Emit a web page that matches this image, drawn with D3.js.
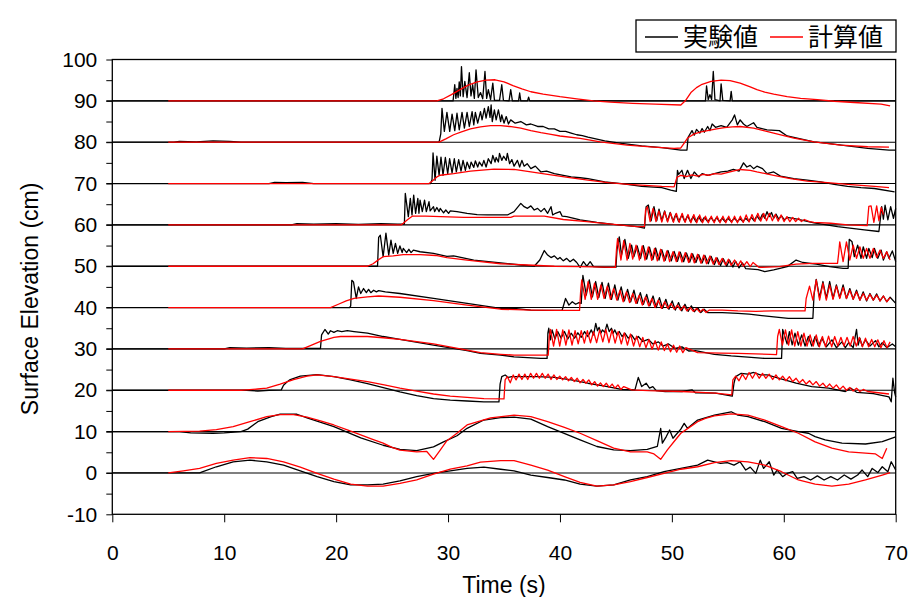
<!DOCTYPE html>
<html>
<head>
<meta charset="utf-8">
<script src="https://cdn.jsdelivr.net/npm/d3@7"></script>
<style>
  body { margin: 0; background: #fff; }
  svg { display: block; }
</style>
</head>
<body>
<svg id="chart" width="912" height="597"></svg>
<script>
// Gauge baselines (each record is shifted up by its offset, in cm)
const gaugeOffsets = [0, 10, 20, 30, 40, 50, 60, 70, 80, 90];
const xTicks = [0, 10, 20, 30, 40, 50, 60, 70];
const yTicks = [-10, 0, 10, 20, 30, 40, 50, 60, 70, 80, 90, 100];
const yMinorTicks = [-5, 5, 15, 25, 35, 45, 55, 65, 75, 85, 95];
const legendNames = ["実験値", "計算値"];
const xTitle = "Time (s)";
const yTitle = "Surface Elevation (cm)";

// Measured surface elevation [time s, elevation cm] per gauge
const exp0 = [[0,0],[7.8,0],[8.1,0.3],[9.3,1.5],[10.8,2.7],[12.3,3.1],[13.8,2.7],[15.3,1.9],[16.8,0.5],[18.3,-0.9],[19.8,-2.1],[21.3,-2.9],[22.8,-2.9],[24.2,-2.7],[25.7,-1.9],[27.2,-0.9],[28.7,-0.1],[30.2,0.5],[31.7,1.1],[33.2,1.4],[34.7,0.9],[35.9,0.5],[37.4,-0.5],[38.9,-1.1],[40.4,-1.7],[41.8,-2.7],[43.3,-3.2],[44.8,-2.9],[46.3,-1.7],[47.8,-0.9],[49.3,0.3],[50.8,1.1],[52.3,1.9],[53.2,3.1],[53.8,2.7],[54.35,2.3],[54.95,2.5],[55.55,1.9],[56.1,2.7],[56.6,0.7],[57.0,1.4],[57.5,-0.1],[57.9,3.1],[58.2,1.1],[58.7,2.7],[59.1,-0.5],[59.4,0.7],[59.9,-0.9],[60.3,-0.1],[60.8,0.3],[61.2,-1.3],[61.8,-0.9],[62.4,-1.7],[63.0,-0.7],[63.6,-1.7],[64.2,-0.9],[64.8,-1.7],[65.4,-0.5],[66.0,-1.5],[66.6,-0.5],[67.0,0.7],[67.5,-0.9],[67.9,1.1],[68.4,0.1],[68.8,1.5],[69.3,0.3],[69.6,2.7],[70.0,0.7]];
const exp1 = [[0,0],[6,0],[7,-0.3],[9,-0.4],[10,-0.3],[11.5,0],[12.1,0.6],[13.0,2.4],[14.2,3.6],[15.0,4.2],[16.5,4.2],[17.4,3.3],[19.8,1.2],[22.2,-1.5],[24.2,-3.3],[25.7,-4.3],[27.2,-4.6],[28.7,-3.7],[29.6,-2.5],[30.8,-1.0],[31.7,0.8],[33.2,2.8],[34.7,3.4],[35.9,3.5],[37.4,3.0],[38.9,1.2],[41.8,-2.0],[43.3,-3.6],[44.8,-4.4],[46.3,-4.6],[47.8,-4.3],[48.7,-3.6],[49.0,0.8],[49.15,-2.8],[49.5,-1.2],[49.8,0.4],[50.1,-1.6],[50.8,0.6],[51.1,2.0],[51.4,0.8],[52.3,2.8],[53.8,4.0],[55.3,4.8],[55.9,4.0],[56.8,3.6],[58.3,2.4],[59.8,0.8],[61.3,0.0],[62.2,-0.4],[62.8,-1.2],[63.7,-2.0],[65.2,-2.8],[67.3,-3.0],[68.8,-2.4],[70,-1.3]];
const exp2 = [[0,0],[12,0],[13,-0.2],[14,0],[15.1,0.1],[15.3,1.2],[15.6,2.0],[15.9,2.6],[16.8,3.4],[18.3,3.8],[19.8,3.3],[21.3,2.5],[22.8,1.6],[24.3,0.6],[25.7,-0.4],[27.2,-1.3],[28.7,-2.0],[30.2,-2.4],[31.7,-2.6],[33.2,-2.8],[34.55,-2.8],[34.65,1.5],[34.8,3.3],[35.1,3.7],[35.4,3.1],[35.7,3.3],[36.5,3.3],[38.0,3.3],[39.5,3.1],[41.0,2.5],[42.5,1.7],[44.0,1.0],[45.5,0.2],[46.7,0.1],[47.0,3.1],[47.3,0.9],[47.7,1.7],[48.0,0.5],[48.3,0.9],[48.6,-0.1],[49.4,-0.3],[50.9,-0.3],[51.8,0.1],[52.1,-0.6],[53.9,-0.7],[55.4,-1.4],[55.55,1.7],[55.7,3.3],[56.2,4.1],[56.8,3.9],[57.3,4.3],[57.9,3.7],[58.5,3.7],[59.6,2.9],[61.1,1.7],[62.5,0.9],[64.0,0.5],[65.5,-0.3],[66.0,0.5],[66.5,-0.5],[68.0,-0.8],[69.4,-1.6],[69.6,-2.8],[69.75,2.9],[69.9,-0.5],[70,-1.6]];
const exp3 = [[0,0],[10,0],[10.5,0.3],[12,0.2],[14,0.3],[15.5,0.1],[18.6,0.1],[18.7,3.4],[19.0,4.7],[19.3,3.6],[19.5,4.4],[19.8,4.0],[20.1,4.4],[20.5,4.2],[21.0,4.4],[21.6,4.2],[22.8,3.8],[24.2,3.0],[25.7,2.3],[28.7,0.9],[31.7,-0.4],[32.9,-1.1],[34.7,-1.5],[35.9,-1.9],[38.3,-2.3],[38.85,-2.3],[38.92,3.8],[39.0,5.0],[39.15,2.2],[39.3,4.6],[39.55,2.4],[39.8,4.2],[40.1,2.6],[40.4,4.2],[40.7,2.4],[41.0,3.8],[41.3,2.6],[41.6,3.9],[41.9,2.8],[42.2,4.2],[42.5,3.0],[42.8,4.6],[43.0,3.4],[43.2,6.2],[43.35,4.4],[43.5,5.2],[43.65,3.8],[43.8,4.6],[44.0,4.0],[44.2,6.0],[44.4,4.2],[44.6,5.0],[44.75,3.8],[44.9,4.6],[45.1,3.4],[45.3,4.2],[45.55,3.0],[45.8,3.8],[46.1,2.6],[46.4,3.4],[46.7,2.2],[47.0,3.0],[47.4,1.8],[47.9,2.3],[48.3,1.2],[48.8,1.7],[49.2,0.7],[49.7,1.2],[50.3,0.1],[50.9,0.5],[51.5,-0.5],[52.1,-0.4],[53.8,-1.3],[55.3,-1.7],[56.8,-2.0],[58.3,-2.3],[59.8,-2.3],[59.9,4.7],[60.3,1.2],[60.5,4.2],[60.75,1.0],[61.0,3.8],[61.3,0.9],[61.6,3.4],[61.9,0.7],[62.2,3.0],[62.5,0.7],[62.8,3.0],[63.1,0.7],[63.4,2.6],[63.8,0.5],[64.3,2.2],[64.7,0.3],[65.2,1.7],[65.5,0.3],[65.8,1.5],[66.2,0.3],[66.5,4.7],[66.65,0.9],[66.8,2.6],[67.0,0.7],[67.3,2.2],[67.7,0.7],[68.2,2.0],[68.5,0.5],[68.8,1.5],[69.2,0.3],[69.7,1.2],[70,0.5]];
const exp4 = [[0,0],[21.2,0],[21.3,0.4],[21.4,6.6],[21.55,6.2],[21.8,2.2],[22.0,5.0],[22.2,3.4],[22.45,4.6],[22.7,3.6],[22.9,4.4],[23.1,3.6],[23.35,4.2],[23.6,3.8],[23.8,4.1],[24.4,3.8],[25.7,3.4],[28.7,2.2],[31.7,1.0],[34.7,-0.2],[35.9,-0.2],[37.4,-0.6],[38.9,-0.7],[40.2,-0.6],[40.5,2.2],[40.8,0.6],[41.1,1.4],[41.4,0.8],[41.7,1.2],[41.9,1.0],[42.05,7.8],[42.35,3.0],[42.62,6.7],[42.9,2.6],[43.19,6.3],[43.47,2.4],[43.76,6.1],[44.04,2.2],[44.33,5.9],[44.61,2.0],[44.9,5.5],[45.18,1.8],[45.47,5.0],[45.75,1.6],[46.04,4.4],[46.32,1.4],[46.61,4.2],[46.89,1.0],[47.18,3.6],[47.46,0.8],[47.75,3.2],[48.03,0.4],[48.32,2.8],[48.6,0.0],[48.89,2.4],[49.17,-0.2],[49.46,2.0],[49.74,-0.4],[50.03,1.6],[50.31,-0.6],[50.6,1.2],[50.88,-0.8],[51.17,0.8],[51.45,-0.9],[51.74,0.4],[52.02,-1.0],[52.31,0.0],[52.59,-1.2],[52.88,-0.4],[53.2,-1.2],[54.5,-1.2],[55.9,-1.4],[56.9,-1.6],[58.9,-2.2],[60.4,-2.6],[62.6,-2.6],[62.7,3.0],[62.9,6.8],[63.2,2.4],[63.5,6.3],[63.8,2.2],[64.1,6.3],[64.4,2.2],[64.7,5.5],[65.0,2.4],[65.3,5.5],[65.6,2.2],[65.9,4.6],[66.2,2.0],[66.5,4.2],[66.8,1.8],[67.1,3.8],[67.4,1.6],[67.7,3.4],[68.0,1.8],[68.3,3.3],[68.6,1.6],[68.9,2.8],[69.2,1.4],[69.5,2.5],[70,1.0]];
const exp5 = [[0,0],[23.7,0],[23.8,7.0],[23.95,7.5],[24.2,2.3],[24.45,8.0],[24.7,2.7],[24.9,6.3],[25.1,3.1],[25.3,5.5],[25.5,3.1],[25.7,4.9],[25.9,3.3],[26.0,4.3],[26.3,3.3],[26.5,4.1],[26.7,3.3],[26.9,3.9],[27.5,3.5],[28.7,3.1],[29.9,2.4],[30.5,2.5],[32.3,1.5],[34.7,0.8],[36.5,0.3],[37.7,0.0],[38.2,1.5],[38.6,3.8],[38.9,2.7],[39.2,2.1],[39.5,2.5],[39.8,1.7],[40.0,2.1],[40.3,1.3],[40.6,1.9],[40.9,1.1],[41.2,1.7],[41.5,0.9],[41.8,-0.3],[42.1,1.1],[42.4,0.0],[42.7,1.1],[43.0,-0.1],[44.0,-0.3],[45.0,-0.3],[45.1,4.0],[45.3,7.1],[45.5,2.7],[45.8,6.5],[46.1,1.9],[46.4,5.1],[46.6,2.3],[46.9,4.9],[47.2,1.9],[47.45,5.0],[47.75,1.7],[48.0,4.6],[48.3,1.6],[48.55,4.4],[48.85,1.5],[49.1,4.0],[49.4,1.4],[49.65,3.8],[49.95,1.3],[50.2,3.6],[50.5,1.2],[50.75,3.4],[51.05,1.1],[51.3,3.2],[51.6,1.0],[51.85,3.0],[52.15,0.9],[52.4,2.8],[52.7,0.8],[52.95,2.6],[53.25,0.6],[53.5,2.4],[53.8,0.4],[54.05,2.0],[54.35,0.2],[54.6,1.8],[54.9,0.0],[55.15,1.5],[55.45,-0.2],[55.7,1.2],[56.0,-0.4],[56.3,0.8],[56.6,-0.6],[57.7,-0.8],[58.3,-1.3],[59.1,-0.9],[60.3,-0.1],[61.1,1.5],[61.7,0.9],[62.9,0.5],[64.1,-0.1],[65.3,-0.5],[65.75,-0.5],[65.85,6.5],[66.1,5.9],[66.3,2.3],[66.6,5.1],[66.9,1.9],[67.1,4.7],[67.4,1.9],[67.6,4.3],[67.9,2.1],[68.1,4.3],[68.4,1.9],[68.7,3.9],[68.9,1.5],[69.2,3.5],[69.4,1.9],[69.7,3.7],[70,1.1]];
const exp6 = [[0,0],[16,0],[16.5,0.3],[18,0.2],[20,0.3],[22,0.1],[24,0.3],[25.5,0.2],[26.1,0.2],[26.18,7.6],[26.45,2.0],[26.63,6.4],[26.78,2.4],[26.93,7.2],[27.1,2.8],[27.3,6.4],[27.4,2.8],[27.5,6.0],[27.7,3.2],[27.9,6.0],[28.06,3.2],[28.3,5.6],[28.4,3.4],[28.7,4.4],[28.8,3.2],[29.0,4.2],[29.2,3.2],[29.3,4.0],[29.6,2.9],[29.8,3.6],[30.05,2.8],[30.2,3.4],[30.8,3.2],[31.7,2.8],[32.6,2.5],[33.5,2.4],[35.3,2.4],[35.9,3.2],[36.5,5.2],[36.8,4.4],[37.1,4.0],[37.4,4.6],[37.7,3.6],[38.0,4.0],[38.3,3.2],[38.6,4.0],[38.9,2.8],[39.2,4.4],[39.35,2.4],[39.6,2.8],[40.0,3.2],[40.2,2.1],[40.6,2.0],[41.8,1.2],[43.3,0.6],[44.8,0.1],[46.9,-0.4],[47.55,-0.8],[47.7,4.4],[47.9,4.8],[48.15,1.0],[48.4,4.4],[48.65,1.0],[48.85,3.8],[49.1,1.0],[49.35,3.4],[49.6,0.9],[49.85,3.0],[50.1,0.9],[50.35,2.6],[50.6,0.8],[50.9,2.4],[51.15,0.8],[51.4,2.2],[51.65,0.8],[51.9,2.0],[52.15,0.8],[52.4,2.0],[52.65,0.8],[52.9,1.8],[53.2,0.8],[53.5,1.8],[53.75,0.8],[54.0,1.8],[54.25,0.8],[54.5,1.6],[54.75,0.8],[55.0,1.6],[55.3,0.8],[55.6,1.6],[55.85,0.8],[56.1,1.5],[56.35,0.8],[56.6,1.6],[56.85,0.9],[57.1,1.8],[57.35,1.0],[57.6,2.2],[57.85,1.2],[58.1,2.6],[58.3,1.6],[58.5,3.2],[58.7,2.0],[58.9,3.0],[59.1,1.6],[59.3,2.6],[59.55,1.4],[59.8,2.2],[60.05,1.2],[60.3,1.8],[61.2,1.4],[62.7,0.5],[64.8,-0.4],[67.2,-1.2],[68.5,-1.6],[68.65,2.0],[68.75,4.4],[68.9,1.4],[69.05,4.8],[69.3,1.2],[69.55,4.4],[69.8,1.6],[70,4.0]];
const exp7 = [[0,0],[14,0],[14.5,0.3],[15.5,0.2],[17,0.3],[18,0],[28.45,0],[28.57,1.0],[28.66,7.4],[28.84,0.8],[29.0,6.6],[29.2,2.0],[29.37,6.4],[29.55,2.0],[29.76,6.3],[29.97,2.4],[30.14,6.0],[30.36,2.6],[30.56,6.0],[30.74,2.8],[30.95,5.8],[31.16,3.0],[31.34,5.6],[31.55,3.2],[31.7,5.2],[31.93,3.6],[32.06,5.2],[32.3,3.9],[32.44,5.5],[32.65,4.0],[32.8,5.2],[33.04,4.2],[33.2,5.6],[33.4,4.0],[33.6,6.0],[33.85,4.8],[34.0,6.8],[34.2,5.2],[34.3,6.3],[34.5,5.2],[34.6,7.3],[34.8,5.6],[34.97,6.6],[35.2,5.6],[35.3,7.3],[35.5,4.8],[35.7,5.8],[35.9,4.2],[36.2,5.6],[36.4,4.0],[36.6,5.6],[36.8,4.2],[37.07,4.8],[37.4,3.6],[37.8,4.2],[38.3,2.8],[38.8,3.0],[39.5,2.4],[40.3,2.0],[41.0,1.6],[41.8,1.4],[42.5,1.2],[44.0,0.4],[45.5,0.0],[47.3,-0.7],[49.1,-1.0],[49.9,-1.6],[50.4,-1.9],[50.5,3.2],[50.6,2.2],[50.9,3.2],[51.1,1.2],[51.4,3.2],[51.7,1.2],[52.0,2.8],[52.4,1.6],[52.7,2.4],[53.2,2.0],[53.8,2.4],[54.4,2.8],[55.0,3.0],[55.5,3.4],[56.0,3.0],[56.4,5.0],[56.7,4.0],[57.0,4.4],[57.3,3.6],[57.6,4.2],[58.1,3.6],[58.5,2.4],[59.1,2.8],[59.7,1.8],[60.9,1.2],[62.1,0.8],[63.3,0.4],[64.5,-0.2],[65.7,-0.7],[66.9,-1.0],[68.1,-1.2],[69.9,-2.0]];
const exp8 = [[0,0],[5.5,0],[6,0.2],[7.5,0.1],[9,0.3],[10.5,0.2],[11.5,0],[29.2,0],[29.35,2.0],[29.46,8.2],[29.67,2.6],[29.9,7.2],[30.15,2.6],[30.36,6.8],[30.6,2.8],[30.8,7.0],[31.0,3.0],[31.25,7.2],[31.46,3.4],[31.7,7.2],[31.9,3.8],[32.15,7.4],[32.3,4.2],[32.44,7.2],[32.65,4.6],[32.9,7.4],[33.04,5.4],[33.25,8.2],[33.4,5.8],[33.6,8.6],[33.75,6.0],[33.85,9.0],[33.95,5.0],[34.14,7.8],[34.3,5.4],[34.5,7.8],[34.7,5.0],[34.8,6.6],[35.0,4.6],[35.2,6.2],[35.4,4.4],[35.6,5.4],[36.0,4.6],[36.5,5.0],[37.0,4.2],[37.4,4.4],[38.0,3.8],[38.5,3.8],[39.0,3.2],[39.5,3.2],[40.0,2.6],[40.5,2.6],[41.0,2.2],[41.5,1.8],[42.0,1.6],[42.5,1.2],[43.0,0.9],[44.0,0.3],[45.5,-0.3],[47.3,-0.9],[49.1,-1.3],[50.8,-1.9],[51.35,-1.9],[51.45,1.2],[51.8,2.8],[52.0,1.7],[52.2,3.1],[52.5,2.2],[52.7,3.3],[52.9,2.4],[53.2,3.8],[53.4,2.8],[53.6,4.4],[53.9,3.6],[54.4,4.0],[54.9,3.6],[55.4,5.4],[55.6,6.6],[55.85,4.2],[56.1,5.4],[56.4,4.4],[56.7,3.8],[57.3,4.7],[57.6,3.6],[58.5,3.0],[59.6,2.8],[60.3,1.5],[61.5,0.8],[62.7,0.1],[63.9,-0.3],[65.7,-0.9],[67.5,-1.5],[69.4,-1.9],[70,-1.9]];
const exp9 = [[0,0],[30.45,0],[30.6,3.9],[30.7,0.6],[30.8,3.0],[30.9,0.8],[31.0,4.6],[31.1,1.2],[31.2,8.3],[31.35,1.0],[31.5,4.7],[31.7,0.8],[31.9,6.8],[32.05,1.2],[32.2,3.9],[32.35,0.6],[32.5,7.5],[32.7,0.8],[32.9,2.0],[33.1,0.5],[33.3,7.1],[33.45,0.6],[33.6,2.7],[33.8,0.3],[34.0,4.3],[34.15,0.1],[34.6,0.1],[34.8,3.9],[34.95,0.1],[35.45,0],[35.6,2.7],[35.75,0],[36.3,0],[36.4,1.9],[36.5,0],[37.1,0],[37.2,0.9],[37.3,0],[53.0,0],[53.1,3.6],[53.25,0.3],[53.4,1.5],[53.55,0.3],[53.7,7.1],[53.85,0.3],[54.3,0],[54.4,4.1],[54.55,0.1],[55.2,0],[55.3,2.3],[55.4,0],[70,0]];

// Computed surface elevation [time s, elevation cm] per gauge
const calc0 = [[5,0],[6.35,0.5],[7.8,1.1],[9.3,2.3],[10.8,3.1],[12.3,3.7],[13.8,3.5],[15.3,2.7],[16.8,1.4],[18.3,-0.1],[19.8,-1.5],[21.3,-2.7],[22.8,-3.2],[24.2,-3.2],[25.7,-2.5],[27.2,-1.7],[28.7,-0.3],[30.2,0.9],[31.7,1.7],[32.9,2.6],[34.7,3.0],[35.9,3.0],[37.4,1.9],[38.9,0.7],[40.4,-0.9],[41.8,-2.3],[43.3,-3.2],[44.8,-2.9],[46.3,-2.1],[47.8,-1.1],[49.3,-0.1],[50.8,0.9],[52.3,1.5],[53.8,2.5],[55.3,3.0],[56.8,2.7],[58.3,1.9],[59.8,0.3],[61.3,-1.7],[62.8,-2.7],[64.3,-3.2],[65.8,-2.7],[67.3,-1.7],[68.8,-0.5],[69.5,0.1]];
const calc1 = [[5,0],[7.8,0.1],[9.3,0.5],[10.8,1.2],[12.3,2.4],[13.8,3.6],[15.0,4.1],[16.2,4.1],[17.4,3.5],[18.6,2.6],[19.8,1.6],[21.0,0.4],[22.2,-0.8],[23.2,-1.8],[24.2,-2.8],[25.0,-3.8],[25.7,-4.5],[27.2,-4.9],[28.1,-4.8],[28.7,-6.7],[29.3,-4.5],[29.9,-2.2],[30.8,-0.4],[31.7,1.6],[32.9,2.6],[33.8,3.3],[35.9,4.0],[37.4,3.6],[38.9,2.4],[40.4,1.0],[41.8,-0.4],[43.3,-2.2],[44.8,-4.0],[46.3,-4.9],[47.8,-4.9],[48.4,-5.4],[49.0,-6.7],[49.6,-4.4],[50.2,-2.4],[50.8,-0.4],[51.5,0.9],[52.3,2.4],[53.0,3.2],[53.8,3.8],[55.3,4.3],[56.8,4.0],[58.3,2.8],[59.8,1.2],[61.3,-0.4],[62.8,-2.5],[64.3,-4.0],[65.8,-4.9],[67.3,-5.2],[68.2,-5.4],[68.8,-6.5],[69.2,-4.0]];
const calc2 = [[5,0],[11.5,0],[12.0,0.1],[13.0,0.3],[13.8,0.5],[15.0,1.5],[16.2,2.6],[17.4,3.4],[18.3,3.7],[19.8,3.3],[21.3,2.7],[22.8,2.1],[24.3,1.3],[25.7,0.5],[27.2,-0.2],[28.7,-0.9],[30.2,-1.4],[31.7,-1.7],[33.2,-2.0],[35.0,-2.1],[35.1,2.5],[35.3,3.3],[35.56,1.8],[35.82,3.7],[36.08,2.5],[36.34,3.9],[36.6,2.6],[36.86,3.9],[37.12,2.6],[37.38,4.1],[37.64,2.9],[37.9,4.1],[38.16,2.9],[38.42,4.1],[38.68,2.9],[38.94,3.9],[39.2,2.6],[39.46,3.7],[39.72,2.6],[39.98,3.4],[40.24,2.5],[40.5,3.3],[40.76,2.3],[41.02,3.1],[41.28,2.1],[41.54,2.9],[41.8,1.8],[42.06,2.6],[42.32,1.7],[42.58,2.5],[42.84,1.3],[43.1,2.1],[43.36,1.0],[43.62,1.8],[43.88,0.9],[44.14,1.7],[44.4,0.7],[44.66,1.5],[44.92,0.5],[45.18,1.3],[45.44,0.2],[45.7,0.9],[46.4,0.1],[47.9,-0.1],[50.9,-0.3],[53.9,-0.7],[55.35,-1.1],[55.45,2.5],[55.7,3.4],[56.0,2.3],[56.3,3.9],[56.6,2.6],[56.9,4.3],[57.2,2.9],[57.5,4.3],[57.8,2.9],[58.1,4.1],[58.4,2.9],[58.7,3.9],[59.0,2.6],[59.3,3.7],[59.6,2.5],[59.9,3.4],[60.2,2.3],[60.5,3.3],[60.8,2.1],[61.1,2.9],[61.4,1.8],[61.7,2.6],[62.0,1.5],[62.3,2.3],[62.6,1.3],[62.9,2.1],[63.2,1.0],[63.5,1.7],[63.8,0.7],[64.1,1.5],[64.4,0.5],[64.7,1.3],[65.0,0.2],[65.3,1.0],[65.6,0.0],[65.9,0.7],[66.2,-0.2],[66.5,0.5],[66.8,-0.3],[67.1,0.2],[67.5,-0.3],[69.4,-0.9]];
const calc3 = [[5,0],[17.0,0],[17.7,0.8],[18.6,1.8],[19.8,2.8],[20.4,3.0],[22.8,3.0],[24.2,2.7],[25.7,2.3],[28.7,1.2],[31.7,-0.3],[32.9,-0.9],[34.7,-1.3],[35.9,-1.5],[38.95,-1.5],[39.05,3.0],[39.15,4.7],[39.43,0.7],[39.7,4.7],[39.98,0.7],[40.25,4.6],[40.53,0.9],[40.8,4.6],[41.08,0.9],[41.35,4.4],[41.63,1.2],[41.9,4.4],[42.18,1.4],[42.45,4.4],[42.73,1.5],[43.0,4.2],[43.28,1.5],[43.55,4.6],[43.83,1.7],[44.1,4.7],[44.38,1.5],[44.65,4.6],[44.93,1.4],[45.2,4.2],[45.48,1.2],[45.75,3.9],[46.03,0.9],[46.3,3.6],[46.58,0.7],[46.85,3.1],[47.13,0.5],[47.4,2.8],[47.68,0.3],[47.95,2.3],[48.23,-0.1],[48.5,2.0],[48.78,-0.3],[49.05,1.7],[49.33,-0.4],[49.6,1.2],[49.88,-0.7],[50.15,0.9],[50.43,-0.8],[50.7,0.7],[50.98,-0.9],[51.25,0.3],[52.3,-0.9],[54.4,-1.0],[55.9,-1.1],[58.8,-1.3],[59.35,-1.4],[59.45,3.0],[59.6,4.7],[59.88,0.9],[60.15,4.6],[60.43,0.9],[60.7,4.6],[60.98,0.7],[61.25,4.2],[61.53,0.7],[61.8,3.8],[62.08,0.7],[62.35,3.4],[62.63,0.7],[62.9,3.4],[63.18,0.5],[63.45,3.0],[63.73,0.5],[64.0,3.1],[64.28,0.5],[64.55,3.0],[64.83,0.7],[65.1,2.8],[65.38,0.7],[65.65,2.8],[65.93,0.7],[66.2,3.0],[66.48,0.7],[66.75,2.8],[67.03,0.5],[67.3,2.6],[67.58,0.5],[67.85,2.3],[68.13,0.5],[68.4,2.2],[68.68,0.3],[68.95,2.0],[69.23,0.3],[69.5,1.7]];
const calc4 = [[5,0],[19.5,0],[20.2,0.8],[20.9,1.6],[21.6,2.2],[22.8,2.6],[23.8,2.8],[25.7,2.5],[28.7,1.7],[31.7,0.6],[34.7,-0.4],[37.4,-0.6],[39.8,-0.7],[41.75,-0.7],[41.85,4.0],[41.95,6.7],[42.25,2.0],[42.52,6.3],[42.8,2.0],[43.09,5.9],[43.37,2.0],[43.66,5.5],[43.94,2.2],[44.23,5.2],[44.51,2.0],[44.8,4.6],[45.08,1.8],[45.37,4.2],[45.65,1.4],[45.94,3.8],[46.22,1.2],[46.51,3.4],[46.79,1.0],[47.08,3.0],[47.36,0.6],[47.65,2.6],[47.93,0.4],[48.22,2.2],[48.5,0.0],[48.79,1.8],[49.07,-0.2],[49.36,1.4],[49.64,-0.2],[49.93,1.0],[50.21,-0.4],[50.5,0.6],[50.78,-0.6],[51.07,0.4],[51.35,-0.8],[51.64,0.0],[51.92,-0.9],[52.21,-0.2],[52.49,-1.1],[52.78,-0.4],[53.06,-1.2],[53.35,-0.6],[54.5,-0.6],[55.9,-0.8],[57.5,-0.9],[59.0,-0.8],[60.5,-0.8],[61.9,-0.8],[62.0,2.2],[62.3,5.2],[62.6,1.8],[62.9,6.7],[63.2,1.8],[63.5,5.9],[63.8,1.8],[64.1,5.5],[64.4,2.0],[64.7,5.2],[65.0,2.2],[65.3,4.9],[65.6,2.2],[65.9,4.2],[66.2,2.0],[66.5,3.8],[66.8,1.8],[67.1,3.4],[67.4,1.8],[67.7,3.2],[68.0,1.8],[68.3,3.0],[68.6,1.6],[68.9,2.8],[69.2,1.4],[69.5,2.4]];
const calc5 = [[5,0],[22.8,0],[23.3,0.6],[23.8,1.6],[24.2,2.3],[25.1,2.5],[26.0,2.8],[27.5,2.8],[28.9,2.6],[29.9,2.1],[31.7,1.5],[32.3,1.3],[34.7,0.6],[37.1,0.3],[39.5,0.0],[41.8,-0.1],[44.95,-0.3],[45.05,4.0],[45.15,6.7],[45.45,1.5],[45.7,6.2],[46.0,1.5],[46.25,5.5],[46.5,1.7],[46.8,5.1],[47.1,1.5],[47.35,4.9],[47.6,1.5],[47.9,4.7],[48.2,1.4],[48.45,4.3],[48.7,1.3],[49.0,4.1],[49.3,1.2],[49.55,3.7],[49.8,1.1],[50.1,3.5],[50.4,1.1],[50.65,3.5],[50.9,1.0],[51.2,3.3],[51.5,0.9],[51.75,3.1],[52.0,0.8],[52.3,2.9],[52.6,0.7],[52.85,2.7],[53.1,0.6],[53.4,2.5],[53.7,0.5],[53.95,2.1],[54.2,0.4],[54.5,1.9],[54.8,0.3],[55.05,1.7],[55.3,0.2],[55.6,1.5],[55.9,0.1],[56.15,1.3],[56.4,0.0],[56.7,1.1],[57.0,-0.1],[57.25,0.9],[57.8,-0.3],[59.6,-0.1],[61.1,0.5],[62.6,0.7],[64.8,0.7],[64.9,3.0],[65.0,5.9],[65.3,1.1],[65.6,5.9],[65.9,1.5],[66.2,5.1],[66.5,1.9],[66.8,4.7],[67.1,1.9],[67.4,4.3],[67.7,1.9],[68.0,4.3],[68.3,2.1],[68.6,3.9],[68.9,1.9],[69.2,3.5],[69.5,1.5]];
const calc6 = [[5,0],[25.8,0],[26.0,0.4],[26.4,1.3],[26.8,2.1],[28.0,2.1],[31.4,1.8],[35.6,1.8],[35.9,2.1],[38.6,2.1],[40.3,1.3],[42.4,0.8],[44.8,0.1],[46.9,-0.4],[47.55,-0.4],[47.65,3.6],[47.8,4.4],[48.06,0.8],[48.32,4.0],[48.58,0.8],[48.84,3.4],[49.1,0.7],[49.36,3.2],[49.62,0.7],[49.88,2.9],[50.14,0.6],[50.4,2.8],[50.66,0.6],[50.92,2.8],[51.18,0.6],[51.44,2.5],[51.7,0.5],[51.96,2.5],[52.22,0.5],[52.48,2.4],[52.74,0.5],[53.0,2.1],[53.26,0.5],[53.52,2.1],[53.78,0.5],[54.04,2.1],[54.3,0.5],[54.56,2.1],[54.82,0.5],[55.08,2.1],[55.34,0.5],[55.6,2.1],[55.86,0.5],[56.12,2.1],[56.38,0.6],[56.64,2.4],[56.9,0.7],[57.16,2.5],[57.42,0.8],[57.68,2.8],[57.94,0.9],[58.2,2.8],[58.46,1.0],[58.72,2.8],[58.98,1.0],[59.24,2.5],[59.5,0.9],[59.76,2.4],[60.02,0.8],[60.28,2.0],[60.54,0.8],[60.8,1.8],[61.06,0.8],[61.32,1.6],[61.58,0.8],[61.84,1.3],[62.3,0.8],[62.7,0.6],[64.2,0.4],[65.7,0.0],[67.45,-0.2],[67.6,4.5],[67.8,4.6],[68.05,0.6],[68.3,4.6],[68.5,1.0],[68.7,4.2],[68.9,2.5]];
const calc7 = [[5,0],[28.3,0],[28.6,0.6],[29.0,1.6],[29.3,2.0],[30.5,2.4],[32.0,3.0],[34.1,3.5],[35.9,3.4],[37.4,2.8],[38.9,2.2],[40.7,1.5],[42.5,0.8],[44.3,0.2],[46.1,-0.2],[49.1,-0.7],[50.2,-0.8],[50.45,1.5],[50.8,2.0],[51.3,1.7],[51.8,2.1],[52.3,1.8],[52.8,2.2],[53.3,2.0],[53.8,2.4],[54.4,2.3],[55.2,2.8],[56.1,3.4],[57.0,3.2],[57.6,2.8],[59.1,2.0],[60.6,1.2],[62.1,0.6],[63.9,0.2],[65.7,-0.2],[68.1,-0.7],[69.4,-1.0]];
const calc8 = [[5,0],[29.2,0],[29.8,0.8],[30.5,1.8],[31.2,2.5],[32.0,3.2],[32.9,3.7],[33.8,4.0],[34.7,4.0],[35.5,3.8],[36.5,3.4],[37.4,2.8],[38.3,2.3],[39.2,1.9],[40.0,1.5],[41.8,0.9],[43.6,0.1],[46.0,-0.7],[48.4,-1.2],[50.2,-1.5],[50.8,-1.4],[51.1,-0.2],[51.4,1.0],[52.0,2.0],[52.6,2.5],[53.2,2.8],[54.0,3.2],[54.7,3.5],[55.4,3.7],[56.1,3.8],[57.3,3.4],[58.2,2.8],[59.1,2.2],[60.0,1.6],[60.9,1.0],[62.7,0.1],[65.1,-0.7],[67.5,-1.1],[69.4,-1.2]];
const calc9 = [[5,0],[29.0,0],[29.6,0.5],[30.3,1.5],[31.0,2.6],[31.8,3.8],[32.6,4.6],[33.4,5.0],[34.2,5.1],[35.0,4.6],[35.8,3.7],[36.6,2.9],[37.4,2.2],[38.5,1.6],[40.0,1.0],[41.5,0.5],[43.0,0.0],[44.5,-0.3],[46.5,-0.6],[48.5,-0.8],[50.8,-1.0],[51.2,0.0],[51.7,2.0],[52.2,3.2],[52.7,4.0],[53.5,4.7],[54.4,5.0],[55.2,4.9],[56.1,4.3],[57.0,3.4],[57.6,2.7],[58.3,2.1],[59.1,1.6],[60.3,1.0],[61.5,0.6],[63.0,0.3],[64.5,-0.1],[66.3,-0.4],[68.7,-0.8],[69.5,-1.2]];

const measured = [exp0, exp1, exp2, exp3, exp4, exp5, exp6, exp7, exp8, exp9];
const computed = [calc0, calc1, calc2, calc3, calc4, calc5, calc6, calc7, calc8, calc9];

const svg = d3.select("#chart");
const font = "'Liberation Sans', Arial, sans-serif";
const plot = { left: 112.3, right: 895.7, top: 59.5, bottom: 514.3 };
const plainNumber = d => String(d);   // hyphen-minus, as on the printed axis

const x = d3.scaleLinear().domain([0, 70]).range([plot.left, plot.right]);
const y = d3.scaleLinear().domain([-10, 100]).range([plot.bottom, plot.top]);

svg.append("rect").attr("width", 912).attr("height", 597).attr("fill", "#fff");

// Baseline of each gauge across the plot, with its outer tick
svg.append("g").selectAll("line").data(gaugeOffsets).join("line")
  .attr("x1", plot.left - 6).attr("x2", plot.right)
  .attr("y1", d => y(d)).attr("y2", d => y(d))
  .attr("stroke", "#000").attr("stroke-width", 1.1);

// Y axis: labelled ticks every 10 cm, minor ticks at the 5s
const yAxis = d3.axisLeft(y).tickValues(yTicks).tickSize(6).tickPadding(9).tickFormat(plainNumber);
const gy = svg.append("g").attr("transform", `translate(${plot.left},0)`).call(yAxis);
gy.select(".domain").remove();
gy.selectAll("line").attr("stroke", "#000");
gy.selectAll("text").attr("font-family", font).attr("font-size", 21).attr("fill", "#000");
svg.append("g").attr("transform", `translate(${plot.left},0)`)
  .call(d3.axisLeft(y).tickValues(yMinorTicks).tickSize(6).tickFormat(""))
  .call(g => g.select(".domain").remove())
  .selectAll("line").attr("stroke", "#000");

// X axis
const xAxis = d3.axisBottom(x).tickValues(xTicks).tickSize(8).tickPadding(23).tickFormat(plainNumber);
const gx = svg.append("g").attr("transform", `translate(0,${plot.bottom})`).call(xAxis);
gx.select(".domain").remove();
gx.selectAll("line").attr("stroke", "#000");
gx.selectAll("text").attr("font-family", font).attr("font-size", 21).attr("fill", "#000");

// Records: measured in black, computed in red, each lifted by its gauge offset
const lineFor = off => d3.line().x(d => x(d[0])).y(d => y(d[1] + off));
const series = svg.append("g").attr("fill", "none").attr("stroke-linejoin", "round");
measured.forEach((pts, i) => {
  series.append("path").attr("d", lineFor(gaugeOffsets[i])(pts))
    .attr("stroke", "#000").attr("stroke-width", 1.3);
});
computed.forEach((pts, i) => {
  series.append("path").attr("d", lineFor(gaugeOffsets[i])(pts))
    .attr("stroke", "#ff0000").attr("stroke-width", 1.3);
});

// Plot frame
svg.append("rect")
  .attr("x", plot.left).attr("y", plot.top)
  .attr("width", plot.right - plot.left).attr("height", plot.bottom - plot.top)
  .attr("fill", "none").attr("stroke", "#000").attr("stroke-width", 1.3);

// Axis titles
svg.append("text").attr("x", 504).attr("y", 593)
  .attr("text-anchor", "middle").attr("font-family", font).attr("font-size", 23)
  .text(xTitle);
svg.append("text").attr("transform", `translate(38,${(plot.top + plot.bottom) / 2 + 12}) rotate(-90)`)
  .attr("text-anchor", "middle").attr("font-family", font).attr("font-size", 23)
  .text(yTitle);

// Legend
const lg = svg.append("g").attr("transform", "translate(636,20)");
lg.append("rect").attr("width", 260).attr("height", 32)
  .attr("fill", "#fff").attr("stroke", "#000").attr("stroke-width", 1.3);
const legendColors = ["#000", "#ff0000"];
const legendX = [9, 134];
legendNames.forEach((name, i) => {
  lg.append("line").attr("x1", legendX[i]).attr("x2", legendX[i] + 33)
    .attr("y1", 17).attr("y2", 17).attr("stroke", legendColors[i]).attr("stroke-width", 1.3);
  lg.append("text").attr("x", legendX[i] + 38).attr("y", 26)
    .attr("font-family", "'Noto Sans CJK JP', sans-serif").attr("font-size", 25)
    .attr("fill", "#000").text(name);
});
</script>
</body>
</html>
